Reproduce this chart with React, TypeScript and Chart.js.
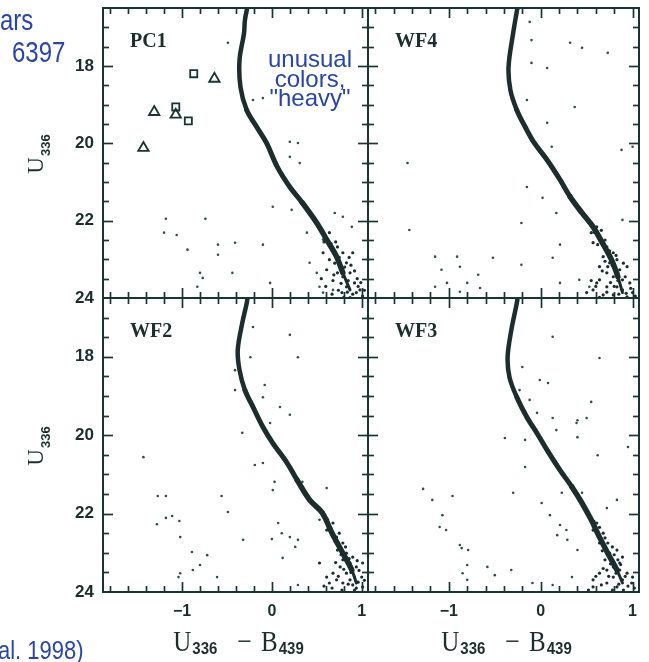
import { useEffect, useRef } from "react";
import { Chart, registerables } from "chart.js";

Chart.register(...registerables);

type Pt = [number, number]; // [U336 - B439, U336]

// Shared axis ranges of the four WFPC2 chips
const colorMin = -1.88;
const colorMax = 1.07;
const magMin = 16.5;
const magMax = 24;

// Labelled ticks
const colorTickLabels = [-1, 0, 1];
const magTickLabels = [18, 20, 22, 24];

// Inward tick marks on every side of a chip
const colorMajorTicks = [-1, 0, 1];
const colorMinorTicks = [-1.8, -1.6, -1.4, -1.2, -0.8, -0.6, -0.4, -0.2, 0.2, 0.4, 0.6, 0.8];
const magMajorTicks = [18, 20, 22];
const magMinorTicks = [17, 17.5, 18.5, 19, 19.5, 20.5, 21, 21.5, 22.5, 23, 23.5];

// ---------- PC1 ----------
const pc1Ridge: Pt[] = [
  [-0.27, 16.45], [-0.3, 16.81], [-0.31, 17.15], [-0.36, 17.84], [-0.35, 18.54],
  [-0.28, 19.14], [-0.17, 19.57], [-0.06, 19.99], [0.06, 20.61], [0.2, 21.13],
  [0.34, 21.54], [0.5, 22.06], [0.61, 22.49], [0.72, 22.93], [0.79, 23.35], [0.87, 23.79],
];
const pc1Cloud: Pt[] = [
  [0.64, 22.31], [0.73, 22.68], [0.79, 22.83], [0.7, 22.83], [0.83, 23.09], [0.76, 23.19],
  [0.87, 23.35], [0.79, 23.45], [0.92, 23.61], [0.83, 23.71], [0.94, 23.86], [0.98, 23.79],
  [0.78, 23.86], [0.87, 23.99], [0.73, 23.35], [0.64, 23.01], [0.57, 22.83], [0.9, 22.83],
  [0.61, 23.27], [0.68, 23.55], [0.95, 23.5], [1.01, 23.95], [0.85, 23.55], [0.7, 23.1],
  [0.66, 22.6], [0.75, 22.95], [0.81, 23.2], [0.88, 23.15], [0.69, 23.4], [0.77, 23.62],
  [0.9, 23.9], [0.96, 23.7], [0.6, 23.7], [0.84, 23.85], [0.74, 23.8], [0.99, 23.6],
  [0.58, 22.55], [0.86, 22.95], [0.92, 23.3], [0.67, 23.9], [0.8, 23.98], [0.71, 22.55],
  [0.55, 23.5], [1.03, 23.8],
];
const pc1Field: Pt[] = [
  [-0.49, 17.4], [-0.21, 18.88], [-0.1, 18.83], [0.2, 19.96], [0.29, 19.99], [0.2, 20.35],
  [0.31, 20.51], [0.01, 21.64], [0.22, 21.72], [0.7, 21.8], [0.79, 21.9], [0.89, 22.16],
  [-1.18, 21.95], [-0.74, 21.95], [-1.2, 22.31], [-1.06, 22.37], [-0.94, 22.75], [-0.6, 22.62],
  [-0.6, 22.88], [-0.41, 22.57], [-0.1, 22.62], [-0.8, 23.35], [-0.77, 23.48], [-0.83, 23.71],
  [-0.44, 23.35], [-0.02, 23.61], [0.5, 23.35], [0.53, 23.71], [0.57, 23.86], [0.68, 23.79],
  [0.42, 23.09], [0.39, 22.31], [0.57, 22.49],
];
const pc1Squares: Pt[] = [[-0.87, 18.2], [-1.07, 19.06], [-0.93, 19.42]];
const pc1Triangles: Pt[] = [[-0.64, 18.33], [-1.31, 19.19], [-1.07, 19.26], [-1.43, 20.12]];

// ---------- WF4 ----------
const wf4Ridge: Pt[] = [
  [-0.25, 16.45], [-0.3, 17.15], [-0.35, 18.02], [-0.33, 18.62], [-0.26, 19.14],
  [-0.17, 19.57], [-0.07, 19.99], [0.07, 20.43], [0.21, 20.94], [0.32, 21.38],
  [0.45, 21.8], [0.57, 22.16], [0.67, 22.57], [0.77, 23.01], [0.84, 23.45], [0.89, 23.86],
];
const wf4Cloud: Pt[] = [
  [0.53, 22.06], [0.61, 22.16], [0.55, 22.31], [0.64, 22.42], [0.57, 22.57], [0.72, 22.68],
  [0.79, 22.83], [0.68, 22.93], [0.83, 23.01], [0.75, 23.09], [0.64, 23.19], [0.86, 23.27],
  [0.94, 23.19], [0.72, 23.35], [0.79, 23.45], [0.64, 23.53], [0.89, 23.53], [0.97, 23.61],
  [0.83, 23.71], [0.72, 23.71], [0.57, 23.79], [0.89, 23.79], [1.0, 23.86], [0.79, 23.92],
  [0.68, 23.92], [0.94, 23.97], [0.5, 23.86], [0.61, 23.61], [0.84, 23.35], [0.73, 23.19],
  [0.58, 22.3], [0.66, 22.25], [0.7, 22.5], [0.62, 22.62], [0.75, 22.78], [0.82, 22.9],
  [0.7, 23.05], [0.78, 23.15], [0.9, 23.1], [0.67, 23.3], [0.84, 23.55], [0.92, 23.45],
  [0.76, 23.6], [0.6, 23.7], [0.98, 23.75], [0.85, 23.9], [0.72, 23.85], [0.64, 23.98],
  [1.03, 23.95], [0.55, 23.55], [0.93, 23.88], [0.8, 23.7],
];
const wf4Field: Pt[] = [
  [-0.12, 16.86], [-0.1, 17.33], [0.32, 17.4], [0.45, 17.53], [0.73, 17.66], [-0.1, 17.92],
  [0.07, 18.05], [-0.15, 18.88], [0.37, 19.06], [0.07, 19.47], [0.12, 20.09], [1.0, 20.09],
  [0.88, 20.17], [-1.45, 20.51], [-0.15, 21.13], [0.02, 21.41], [0.17, 21.8], [-0.21, 22.06],
  [0.89, 21.98], [-1.43, 22.24], [0.21, 22.62], [0.13, 22.96], [-0.52, 22.96], [-0.21, 23.14],
  [-1.15, 22.93], [-0.91, 22.93], [-1.08, 23.27], [-0.88, 23.19], [-0.68, 23.4], [-0.8, 23.61],
  [-1.02, 23.61], [-1.15, 23.71], [-0.88, 23.84], [-0.66, 23.74], [0.21, 23.61], [0.42, 23.53],
  [0.53, 23.71],
];

// ---------- WF2 ----------
const wf2Ridge: Pt[] = [
  [-0.27, 16.45], [-0.28, 16.63], [-0.33, 17.14], [-0.38, 17.83], [-0.36, 18.34],
  [-0.3, 18.85], [-0.21, 19.28], [-0.1, 19.79], [0.01, 20.2], [0.17, 20.71], [0.28, 21.14],
  [0.42, 21.65], [0.56, 21.98], [0.67, 22.5], [0.79, 23.01], [0.89, 23.44], [0.94, 23.77],
];
const wf2Cloud: Pt[] = [
  [0.57, 21.96], [0.68, 22.24], [0.61, 22.42], [0.72, 22.6], [0.79, 22.75], [0.73, 22.93],
  [0.83, 23.01], [0.9, 23.11], [0.79, 23.18], [0.87, 23.26], [0.94, 23.36], [1.01, 23.26],
  [0.76, 23.36], [0.83, 23.52], [0.68, 23.52], [0.92, 23.62], [1.0, 23.62], [0.72, 23.69],
  [0.79, 23.77], [0.9, 23.82], [1.01, 23.87], [0.64, 23.77], [0.61, 23.62], [0.87, 23.69],
  [0.94, 23.9], [0.53, 23.26],
  [0.62, 22.15], [0.66, 22.38], [0.75, 22.5], [0.7, 22.7], [0.82, 22.85], [0.77, 23.05],
  [0.86, 23.15], [0.95, 23.2], [0.71, 23.25], [0.8, 23.42], [0.88, 23.5], [0.97, 23.45],
  [0.74, 23.6], [0.85, 23.8], [0.96, 23.75], [0.67, 23.9], [0.78, 23.95], [1.03, 23.7],
  [0.58, 23.85], [0.92, 23.95],
];
const wf2Field: Pt[] = [
  [-0.21, 17.24], [0.2, 17.44], [-0.24, 18.01], [0.29, 18.01], [-0.41, 18.34], [-0.08, 18.72],
  [-0.41, 18.85], [-0.1, 19.03], [0.09, 19.28], [0.2, 19.48], [-0.33, 19.94], [-0.02, 19.69],
  [-1.43, 20.56], [-0.19, 20.76], [-0.1, 20.71], [0.03, 21.19], [0.01, 21.4], [0.34, 21.19],
  [0.61, 21.35], [-1.27, 21.55], [-1.18, 21.55], [-0.56, 21.55], [-0.49, 21.96], [-1.18, 22.11],
  [-1.11, 22.06], [-1.28, 22.27], [-1.03, 22.19], [-1.02, 22.6], [-0.32, 22.67], [0.0, 22.65],
  [0.2, 22.6], [0.29, 22.67], [0.07, 22.24], [0.11, 22.5], [-0.89, 22.98], [-0.72, 23.06],
  [-0.8, 23.31], [-0.88, 23.44], [-1.02, 23.52], [-1.04, 23.62], [-0.61, 23.62], [0.12, 23.13],
  [0.26, 22.85], [0.53, 22.16], [0.29, 23.82],
];

// ---------- WF3 ----------
const wf3Ridge: Pt[] = [
  [-0.25, 16.45], [-0.26, 16.63], [-0.32, 17.32], [-0.36, 18.0], [-0.34, 18.52],
  [-0.26, 19.03], [-0.15, 19.54], [-0.04, 19.95], [0.07, 20.38], [0.21, 20.89], [0.34, 21.32],
  [0.45, 21.73], [0.55, 22.16], [0.64, 22.6], [0.73, 23.01], [0.83, 23.44], [0.89, 23.77],
];
const wf3Cloud: Pt[] = [
  [0.53, 22.09], [0.61, 22.24], [0.57, 22.42], [0.68, 22.5], [0.73, 22.75], [0.64, 22.75],
  [0.83, 22.93], [0.75, 23.01], [0.7, 23.18], [0.84, 23.18], [0.89, 23.11], [0.79, 23.36],
  [0.72, 23.44], [0.86, 23.44], [0.94, 23.52], [0.64, 23.52], [0.79, 23.62], [0.89, 23.69],
  [0.57, 23.69], [0.72, 23.77], [0.99, 23.77], [0.83, 23.87], [0.57, 23.87], [1.0, 23.62],
  [0.86, 23.26],
  [0.58, 22.2], [0.64, 22.35], [0.7, 22.62], [0.78, 22.85], [0.67, 22.95], [0.8, 23.05],
  [0.87, 23.3], [0.76, 23.28], [0.68, 23.4], [0.82, 23.52], [0.92, 23.6], [0.74, 23.6],
  [0.6, 23.6], [0.85, 23.8], [0.95, 23.85], [0.66, 23.82], [0.78, 23.95], [0.9, 23.95],
  [1.02, 23.9], [0.52, 23.95],
];
const wf3Field: Pt[] = [
  [0.13, 17.49], [0.64, 18.03], [-0.2, 18.26], [-0.01, 18.59], [0.08, 18.67], [-0.23, 18.85],
  [-0.12, 19.1], [0.55, 19.15], [-0.04, 19.43], [0.13, 19.56], [0.4, 19.62], [0.5, 19.56],
  [0.39, 19.69], [0.17, 19.87], [-0.39, 20.07], [-0.17, 20.12], [0.4, 20.05], [0.62, 20.51],
  [0.95, 20.3], [-0.17, 20.81], [-1.28, 21.37], [-0.96, 21.55], [-1.18, 21.65], [-0.3, 21.47],
  [0.01, 21.73], [0.23, 21.47], [0.45, 21.47], [0.83, 21.65], [0.72, 21.86], [-1.07, 22.04],
  [-1.1, 22.34], [-1.03, 22.42], [0.1, 22.04], [0.21, 22.29], [0.28, 22.42], [0.18, 22.55],
  [0.29, 22.67], [-0.88, 22.8], [-0.79, 22.93], [-0.86, 22.88], [-0.8, 23.31], [-0.58, 23.36],
  [-0.85, 23.52], [-0.8, 23.69], [-0.5, 23.57], [-0.32, 23.44], [-0.09, 23.77], [0.13, 23.82],
  [0.34, 23.62], [0.4, 22.93],
];

const CANVAS_W = 649;
const CANVAS_H = 662;
const INK = "#1b2d2d";
const FRAME = "#1a3434";
const FIELD = "#2f4f4f";
const BLUE = "#2a45a5";
const SANS = '"Liberation Sans", Arial, sans-serif';
const SERIF = '"Liberation Serif", "Times New Roman", serif';

interface Note {
  lines: string[];
  x: number;
  y: number;
  lineGap: number;
  align: CanvasTextAlign;
  size: number;
  stretch: number;
}

interface Panel {
  label: string;
  ridge: Pt[];
  cloud: Pt[];
  field: Pt[];
  squares: Pt[];
  triangles: Pt[];
  box: { left: number; top: number; right: number; bottom: number };
  outerX: boolean;
  outerY: boolean;
  notes: Note[];
}

const panels: Panel[] = [
  {
    label: "PC1", ridge: pc1Ridge, cloud: pc1Cloud, field: pc1Field,
    squares: pc1Squares, triangles: pc1Triangles,
    box: { left: 103, top: 8, right: 368, bottom: 298 }, outerX: false, outerY: true,
    notes: [
      { lines: ["unusual", "colors,", "\"heavy\""], x: 310, y: 67, lineGap: 19.5, align: "center", size: 24, stretch: 1 },
      { lines: ["ars"], x: 0, y: 30, lineGap: 0, align: "left", size: 24, stretch: 1.2 },
      { lines: ["6397"], x: 12, y: 62, lineGap: 0, align: "left", size: 24, stretch: 1.25 },
    ],
  },
  {
    label: "WF4", ridge: wf4Ridge, cloud: wf4Cloud, field: wf4Field, squares: [], triangles: [],
    box: { left: 368, top: 8, right: 639, bottom: 298 }, outerX: false, outerY: false, notes: [],
  },
  {
    label: "WF2", ridge: wf2Ridge, cloud: wf2Cloud, field: wf2Field, squares: [], triangles: [],
    box: { left: 103, top: 298, right: 368, bottom: 592 }, outerX: true, outerY: true,
    notes: [{ lines: ["al. 1998)"], x: -2, y: 659, lineGap: 0, align: "left", size: 22, stretch: 1.15 }],
  },
  {
    label: "WF3", ridge: wf3Ridge, cloud: wf3Cloud, field: wf3Field, squares: [], triangles: [],
    box: { left: 368, top: 298, right: 639, bottom: 592 }, outerX: true, outerY: false, notes: [],
  },
];

interface Run { text: string; font: string; dy?: number; gap?: number }

function runsWidth(ctx: CanvasRenderingContext2D, runs: Run[]) {
  let w = 0;
  for (const r of runs) {
    ctx.font = r.font;
    w += (r.gap || 0) + ctx.measureText(r.text).width;
  }
  return w;
}

function drawRuns(ctx: CanvasRenderingContext2D, x: number, y: number, runs: Run[]) {
  let cx = x;
  for (const r of runs) {
    cx += r.gap || 0;
    ctx.font = r.font;
    ctx.fillText(r.text, cx, y + (r.dy || 0));
    cx += ctx.measureText(r.text).width;
  }
}

const fmtColor = (v: number) => (v < 0 ? "\u2212" + Math.abs(v) : String(v));

// Frame and inward tick marks on all four sides of a chip
const chipFrame = {
  id: "chipFrame",
  afterDatasetsDraw(chart: any) {
    const { ctx, chartArea: a, scales } = chart;
    const sx = scales.x;
    const sy = scales.y;
    ctx.save();
    ctx.strokeStyle = FRAME;
    ctx.lineCap = "butt";
    ctx.lineWidth = 1.7;
    const seg = (x1: number, y1: number, x2: number, y2: number) => {
      ctx.beginPath();
      ctx.moveTo(x1, y1);
      ctx.lineTo(x2, y2);
      ctx.stroke();
    };
    const xTick = (v: number, len: number) => {
      const px = Math.round(sx.getPixelForValue(v)) + 0.5;
      seg(px, a.top, px, a.top + len);
      seg(px, a.bottom, px, a.bottom - len);
    };
    const yTick = (v: number, len: number) => {
      const py = Math.round(sy.getPixelForValue(v)) + 0.5;
      seg(a.left, py, a.left + len, py);
      seg(a.right, py, a.right - len, py);
    };
    colorMinorTicks.forEach((v) => xTick(v, 6));
    colorMajorTicks.forEach((v) => xTick(v, 10));
    magMinorTicks.forEach((v) => yTick(v, 6));
    magMajorTicks.forEach((v) => yTick(v, 10));
    ctx.lineWidth = 2;
    ctx.strokeRect(a.left, a.top, a.right - a.left, a.bottom - a.top);
    ctx.restore();
  },
};

function makeTextPlugin(panel: Panel) {
  return {
    id: "chipText",
    afterDraw(chart: any) {
      const { ctx, chartArea: a } = chart;
      ctx.save();
      ctx.fillStyle = INK;
      ctx.textBaseline = "alphabetic";
      ctx.textAlign = "left";
      ctx.font = `bold 20px ${SERIF}`;
      ctx.fillText(panel.label, a.left + 27, a.top + 39);

      if (panel.outerY) {
        const runs: Run[] = [
          { text: "U", font: `23px ${SERIF}` },
          { text: "336", font: `bold 13px ${SANS}`, dy: 7, gap: 1 },
        ];
        const w = runsWidth(ctx, runs);
        const cy = (a.top + a.bottom) / 2 + 1;
        ctx.save();
        ctx.translate(43, cy + w / 2);
        ctx.rotate(-Math.PI / 2);
        drawRuns(ctx, 0, 0, runs);
        ctx.restore();
      }

      if (panel.outerX) {
        const runs: Run[] = [
          { text: "U", font: `25px ${SERIF}` },
          { text: "336", font: `bold 15px ${SANS}`, dy: 3, gap: 1 },
          { text: "\u2212", font: `26px ${SERIF}`, gap: 20 },
          { text: "B", font: `25px ${SERIF}`, gap: 9 },
          { text: "439", font: `bold 15px ${SANS}`, dy: 3, gap: 1 },
        ];
        const w = runsWidth(ctx, runs);
        const cx = (a.left + a.right) / 2 + 3;
        ctx.save();
        ctx.translate(cx - w / 2, 651);
        ctx.scale(1, 1.15);
        drawRuns(ctx, 0, 0, runs);
        ctx.restore();
      }

      ctx.fillStyle = BLUE;
      for (const n of panel.notes) {
        ctx.font = `${n.size}px ${SANS}`;
        ctx.textAlign = n.align;
        n.lines.forEach((line, i) => {
          ctx.save();
          ctx.translate(n.x, n.y + i * n.lineGap);
          ctx.scale(1, n.stretch);
          ctx.fillText(line, 0, 0);
          ctx.restore();
        });
      }
      ctx.restore();
    },
  };
}

function makeChart(canvas: HTMLCanvasElement, panel: Panel) {
  const yAxisW = panel.outerY ? 60 : 0;
  const xAxisH = panel.outerX ? 30 : 0;
  const toXY = (pts: Pt[]) => pts.map(([x, y]) => ({ x, y }));
  const hollow = "rgba(255,255,255,0)";
  return new Chart(canvas, {
    type: "scatter",
    data: {
      datasets: [
        {
          // dense ridge of the main sequence / subgiant branch, thinning out at the faint end
          data: toXY(panel.ridge),
          showLine: true,
          borderColor: INK,
          borderWidth: 5,
          borderCapStyle: "round",
          borderJoinStyle: "round",
          tension: 0.35,
          pointRadius: 0,
          segment: {
            borderWidth: (c: any) =>
              c.p1.parsed.y > 23.5 ? 3 : c.p1.parsed.y > 21.6 ? 5.5 : c.p1.parsed.y > 19.2 ? 5 : 4.5,
          },
        } as any,
        { data: toXY(panel.cloud), pointRadius: 1.6, backgroundColor: INK, borderWidth: 0 },
        { data: toXY(panel.field), pointRadius: 1.3, backgroundColor: FIELD, borderWidth: 0 },
        {
          data: toXY(panel.squares), pointStyle: "rect", pointRadius: 5,
          backgroundColor: hollow, borderColor: FRAME, borderWidth: 1.8,
        },
        {
          data: toXY(panel.triangles), pointStyle: "triangle", pointRadius: 6,
          backgroundColor: hollow, borderColor: FRAME, borderWidth: 1.8,
        },
      ],
    },
    options: {
      animation: false,
      responsive: false,
      devicePixelRatio: 1,
      events: [],
      layout: {
        padding: {
          left: panel.box.left - yAxisW,
          top: panel.box.top,
          right: CANVAS_W - panel.box.right,
          bottom: CANVAS_H - panel.box.bottom - xAxisH,
        },
      },
      plugins: { legend: { display: false }, tooltip: { enabled: false }, title: { display: false } },
      scales: {
        x: {
          type: "linear",
          min: colorMin,
          max: colorMax,
          grid: { display: false, drawTicks: false },
          border: { display: false },
          afterBuildTicks: (s: any) => {
            s.ticks = colorTickLabels.map((v) => ({ value: v }));
          },
          afterFit: (s: any) => {
            s.height = xAxisH;
            s.paddingLeft = 0;
            s.paddingRight = 0;
            s.paddingTop = 0;
            s.paddingBottom = 0;
          },
          ticks: {
            display: panel.outerX,
            padding: 10,
            color: INK,
            maxRotation: 0,
            autoSkip: false,
            font: { family: SANS, size: 16, weight: "bold" },
            callback: (v: any) => fmtColor(Number(v)),
          },
        },
        y: {
          type: "linear",
          reverse: true,
          min: magMin,
          max: magMax,
          grid: { display: false, drawTicks: false },
          border: { display: false },
          afterBuildTicks: (s: any) => {
            s.ticks = magTickLabels.map((v) => ({ value: v }));
          },
          afterFit: (s: any) => {
            s.width = yAxisW;
            s.paddingLeft = 0;
            s.paddingRight = 0;
            s.paddingTop = 0;
            s.paddingBottom = 0;
          },
          ticks: {
            display: panel.outerY,
            padding: 9,
            color: INK,
            autoSkip: false,
            font: { family: SANS, size: 17, weight: "bold" },
            callback: (v: any) => String(v),
          },
        },
      },
    } as any,
    plugins: [chipFrame, makeTextPlugin(panel)],
  });
}

function ChipCanvas({ panel }: { panel: Panel }) {
  const ref = useRef<HTMLCanvasElement | null>(null);
  useEffect(() => {
    if (!ref.current) return;
    const chart = makeChart(ref.current, panel);
    return () => chart.destroy();
  }, [panel]);
  return (
    <canvas
      ref={ref}
      width={CANVAS_W}
      height={CANVAS_H}
      style={{ position: "absolute", left: 0, top: 0, width: CANVAS_W, height: CANVAS_H }}
    />
  );
}

export default function App() {
  return (
    <div
      style={{
        position: "absolute",
        left: 0,
        top: 0,
        width: CANVAS_W,
        height: CANVAS_H,
        background: "#ffffff",
        overflow: "hidden",
      }}
    >
      {panels.map((p) => (
        <ChipCanvas key={p.label} panel={p} />
      ))}
    </div>
  );
}
